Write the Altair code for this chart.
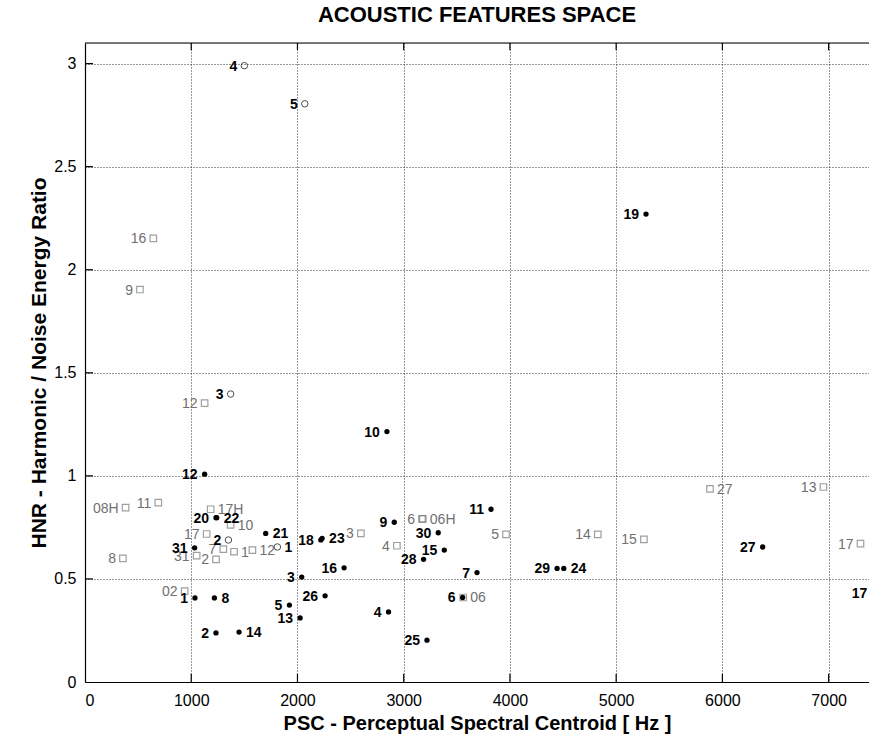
import altair as alt
import pandas as pd

FONT = "Liberation Sans"

# Black filled dots
dot_labels = ["19", "10", "12", "20", "22", "21", "31", "18", "23", "3", "16", "1", "8", "5", "13",
              "26", "2", "14", "9", "30", "15", "28", "11", "7", "6", "4", "25", "29", "24", "27", "17"]
dot_x = [5281, 2842, 1126, 1233, 1240, 1701, 1032, 2220, 2232, 2040, 2439, 1035, 1218, 1924, 2025,
         2260, 1233, 1450, 2911, 3325, 3382, 3187, 3822, 3690, 3555, 2857, 3219, 4444, 4507, 6379, 7430]
dot_y = [2.27, 1.215, 1.008, 0.797, 0.797, 0.721, 0.651, 0.689, 0.697, 0.509, 0.554, 0.408, 0.408, 0.373, 0.311,
         0.418, 0.238, 0.242, 0.775, 0.724, 0.640, 0.595, 0.838, 0.531, 0.410, 0.340, 0.203, 0.551, 0.551, 0.655, 0.43]
dot_side = ["L", "L", "L", "L", "R", "R", "L", "L", "R", "L", "L", "L", "R", "L", "L",
            "L", "L", "R", "L", "L", "L", "L", "L", "L", "L", "L", "L", "L", "R", "L", "L"]

# Open circles
circ_labels = ["4", "5", "3", "2", "1"]
circ_x = [1500, 2069, 1371, 1350, 1811]
circ_y = [2.99, 2.805, 1.397, 0.689, 0.655]
circ_side = ["L", "L", "L", "L", "R"]

# Grey squares
sq_labels = ["16", "9", "12", "08H", "11", "17H", "10", "17", "31", "7", "2", "1", "12", "8", "02",
             "3", "4", "6", "06H", "5", "06", "14", "15", "27", "13", "17"]
sq_x = [643, 517, 1126, 382, 690, 1183, 1371, 1145, 1051, 1302, 1233, 1403, 1576, 357, 938,
        2597, 2936, 3172, 3180, 3963, 3560, 4827, 5261, 5883, 6951, 7300]
sq_y = [2.152, 1.904, 1.353, 0.846, 0.870, 0.838, 0.762, 0.718, 0.613, 0.645, 0.595, 0.632, 0.640, 0.600, 0.441,
        0.721, 0.661, 0.791, 0.791, 0.716, 0.410, 0.716, 0.692, 0.937, 0.946, 0.671]
sq_side = ["L", "L", "L", "L", "L", "R", "R", "L", "L", "L", "L", "R", "R", "L", "L",
           "L", "L", "L", "R", "L", "R", "L", "L", "R", "L", "L"]

x_ticks = [1000, 2000, 3000, 4000, 5000, 6000, 7000]
y_ticks = [0.5, 1, 1.5, 2, 2.5, 3]
X_MAX = 7380
Y_MAX = 3.1

def frame(labels, xs, ys, sides, group):
    return pd.DataFrame({"label": labels, "x": xs, "y": ys, "side": sides, "group": group})

df = pd.concat([
    frame(sq_labels, sq_x, sq_y, sq_side, "square"),
    frame(circ_labels, circ_x, circ_y, circ_side, "circle"),
    frame(dot_labels, dot_x, dot_y, dot_side, "dot"),
], ignore_index=True)

xs = alt.Scale(domain=[0, X_MAX], nice=False, zero=True)
ys = alt.Scale(domain=[0, Y_MAX], nice=False)

X = alt.X("x:Q", scale=xs, axis=alt.Axis(
    title="PSC - Perceptual Spectral Centroid  [ Hz ]", values=[0] + x_ticks, format="d",
    grid=True, gridDash=[1, 2], gridColor="#333", gridWidth=1,
    ticks=False, domainColor="black", domainWidth=1.2,
    labelFont=FONT, labelFontSize=16, labelColor="black", labelPadding=10,
    titleFont=FONT, titleFontSize=20, titleFontWeight="bold", titleColor="black", titlePadding=5))
Y = alt.Y("y:Q", scale=ys, axis=alt.Axis(
    title="HNR - Harmonic / Noise Energy Ratio", values=[0] + y_ticks, format=".1~f",
    grid=True, gridDash=[1, 2], gridColor="#333", gridWidth=1,
    ticks=False, domainColor="black", domainWidth=1.2,
    labelFont=FONT, labelFontSize=16, labelColor="black", labelPadding=9,
    titleFont=FONT, titleFontSize=21, titleFontWeight="bold", titleColor="black", titlePadding=4))

base = alt.Chart(df)

squares = base.transform_filter("datum.group == 'square'").mark_point(
    shape="square", filled=False, size=42, color="#777", strokeWidth=1.2, clip=True
).encode(x=X, y=Y)
circles = base.transform_filter("datum.group == 'circle'").mark_point(
    shape="circle", filled=False, size=42, color="black", strokeWidth=1, clip=True
).encode(x=X, y=Y)
dots = base.transform_filter("datum.group == 'dot'").mark_point(
    shape="circle", filled=True, size=28, color="black", opacity=1, clip=True
).encode(x=X, y=Y)

def labels(group, side, color, weight):
    return base.transform_filter(
        f"datum.group {'==' if group == 'square' else '!='} 'square' && datum.side == '{side}'"
    ).mark_text(
        align="right" if side == "L" else "left", dx=-7 if side == "L" else 7, dy=1,
        baseline="middle", font=FONT, fontSize=14, fontWeight=weight, color=color
    ).encode(x=X, y=Y, text="label:N")

lbl = [labels("square", "L", "#707070", "normal"), labels("square", "R", "#707070", "normal"),
       labels("dot", "L", "black", "bold"), labels("dot", "R", "black", "bold")]

tick_df = pd.DataFrame({"xt": x_ticks})
ytick_df = pd.DataFrame({"yt": y_ticks})
bottom_ticks = alt.Chart(tick_df).mark_rule(color="black", strokeWidth=1.2).encode(
    x=alt.X("xt:Q", scale=xs), y=alt.datum(0), y2=alt.datum(0.04))
top_ticks = alt.Chart(tick_df).mark_rule(color="black", strokeWidth=1.2).encode(
    x=alt.X("xt:Q", scale=xs), y=alt.datum(Y_MAX), y2=alt.datum(Y_MAX - 0.035))
left_ticks = alt.Chart(ytick_df).mark_rule(color="black", strokeWidth=1.2).encode(
    y=alt.Y("yt:Q", scale=ys), x=alt.datum(0), x2=alt.datum(75))
top_frame = alt.Chart(pd.DataFrame({"a": [0]})).mark_rule(color="black", strokeWidth=1.2).encode(
    x=alt.datum(0), x2=alt.datum(X_MAX), y=alt.datum(Y_MAX))

chart = alt.layer(
    squares, circles, dots, *lbl, bottom_ticks, top_ticks, left_ticks, top_frame
).properties(
    width=784, height=639,
    title=alt.TitleParams("ACOUSTIC FEATURES SPACE", font=FONT, fontSize=22, fontWeight="bold",
                          color="black", anchor="middle", offset=15),
    autosize=alt.AutoSizeParams(type="none"),
    padding={"left": 85, "top": 43, "right": 0, "bottom": 62},
).configure_view(stroke=None).configure(background="white")

chart.save("out.html", embed_options={"renderer": "svg", "actions": False})
